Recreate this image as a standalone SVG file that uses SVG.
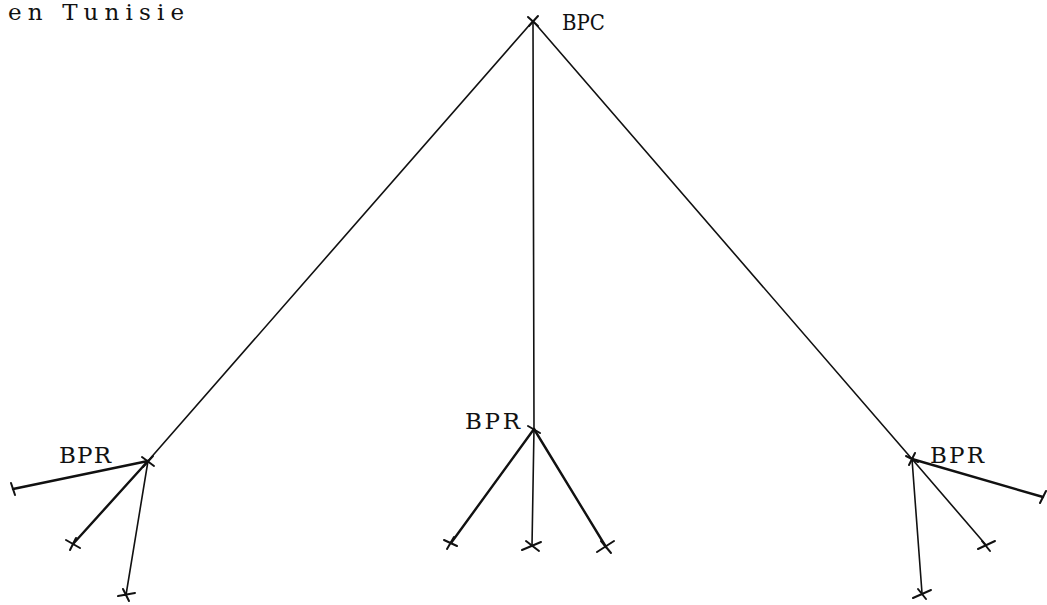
<svg xmlns="http://www.w3.org/2000/svg" width="1047" height="605" viewBox="0 0 1047 605">
<style>
.t{font-family:"DejaVu Serif","Liberation Serif",serif;font-size:23px;fill:#111}
.e{stroke:#111;stroke-width:1.6;fill:none;stroke-linecap:round}
.b{stroke:#111;stroke-width:2.4;fill:none;stroke-linecap:round}
.x{stroke:#111;stroke-width:2;fill:none;stroke-linecap:round}
</style>
<rect width="1047" height="605" fill="#fff"/>
<text class="t" x="8" y="20" textLength="176" lengthAdjust="spacing">en Tunisie</text>
<g id="connectors">
<line class="e" x1="533" y1="21" x2="148" y2="461"/>
<line class="e" x1="533" y1="21" x2="534" y2="429"/>
<line class="e" x1="533" y1="21" x2="912" y2="459"/>
<line class="b" x1="148" y1="461" x2="13" y2="489"/>
<line class="b" x1="148" y1="461" x2="73" y2="544"/>
<line class="e" x1="148" y1="461" x2="126" y2="595"/>
<line class="b" x1="534" y1="429" x2="451" y2="543"/>
<line class="e" x1="534" y1="429" x2="532" y2="546"/>
<line class="b" x1="534" y1="429" x2="606" y2="547"/>
<line class="b" x1="912" y1="459" x2="1043" y2="497"/>
<line class="e" x1="912" y1="459" x2="986" y2="545"/>
<line class="e" x1="912" y1="459" x2="922" y2="593"/>
</g>
<g id="BPC">
<path class="x" d="M528 17 L538 26 M538 16 L529 26"/>
<text class="t" x="562" y="30" textLength="43" lengthAdjust="spacingAndGlyphs">BPC</text>
</g>
<g id="BPR-left">
<path class="x" d="M142 457 L154 466 M153 456 L143 467"/>
<text class="t" x="59" y="463" textLength="52" lengthAdjust="spacing">BPR</text>
</g>
<g id="BPR-mid">
<path class="x" d="M528 426 L540 433"/>
<text class="t" x="465" y="429" textLength="55" lengthAdjust="spacing">BPR</text>
</g>
<g id="BPR-right">
<path class="x" d="M906 456 L918 462 M915 453 L909 465"/>
<text class="t" x="930" y="463" textLength="54" lengthAdjust="spacing">BPR</text>
</g>
<g id="leaf-l1"><path class="x" d="M11 483 L15 495"/></g>
<g id="leaf-l2"><path class="x" d="M66 540 L80 548 M70 550 L76 538"/></g>
<g id="leaf-l3"><path class="x" d="M118 596 L135 593 M123 589 L129 601"/></g>
<g id="leaf-m1"><path class="x" d="M444 540 L457 546 M447 549 L454 537"/></g>
<g id="leaf-m2"><path class="x" d="M522 550 L541 542 M526 541 L539 551"/></g>
<g id="leaf-m3"><path class="x" d="M597 552 L614 541 M601 541 L611 553"/></g>
<g id="leaf-r1"><path class="x" d="M1040 503 L1046 491"/></g>
<g id="leaf-r2"><path class="x" d="M978 549 L995 541 M982 541 L990 551"/></g>
<g id="leaf-r3"><path class="x" d="M913 598 L931 590 M918 589 L926 599"/></g>
</svg>
